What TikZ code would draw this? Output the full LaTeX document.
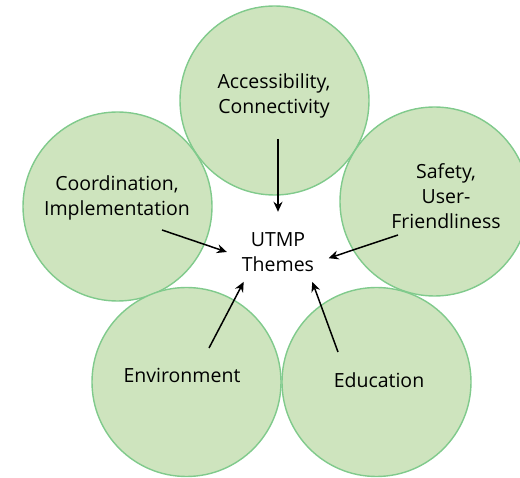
\documentclass[tikz,border=0pt]{standalone}
\usepackage{fontspec}
\setmainfont{Open Sans}
\usetikzlibrary{arrows.meta,shapes.geometric}
\definecolor{themefill}{RGB}{206,228,190}
\definecolor{themeline}{RGB}{128,202,140}
\tikzset{
    theme-circle/.style = {circle, draw=themeline, fill=themefill, line width=1.4pt, minimum size=189pt, inner sep=0pt},
    theme-text/.style = {align=center, font=\fontsize{19.5}{25}\selectfont, inner sep=0pt},
    theme-arrow/.style = {-{Stealth[length=10pt,width=9pt]}, line width=1.5pt},
}

\begin{document}
\begin{tikzpicture}[x=1pt,y=-1pt]
\useasboundingbox (0,0) rectangle (520,478);
\node [theme-circle] (c-access) at (274.5,100.5) {};
\node [theme-circle] (c-coord) at (117.5,206.5) {};
\node [theme-circle] (c-safety) at (434.5,201.5) {};
\node [theme-circle] (c-env) at (186.5,382) {};
\node [theme-circle] (c-edu) at (376.5,382) {};

\node [theme-text] (access) at (274,96) {Accessibility,\\Connectivity};
\node [theme-text] (coord) at (117,198) {Coordination,\\Implementation};
\node [theme-text] (safety) at (446,196) {Safety,\\User-\\Friendliness};
\node [theme-text] (env) at (182,375) {Environment};
\node [theme-text] (edu) at (379,380) {Education};
\node [theme-text, ellipse, minimum width=96pt, minimum height=80pt] (utmp) at (278,252) {UTMP\\Themes};

\coordinate (access-tail) at (278,139);
\coordinate (coord-tail) at (162,230);
\coordinate (safety-tail) at (398,235);
\coordinate (env-tail) at (209,348);
\coordinate (edu-tail) at (338,352);

\draw [theme-arrow] (access-tail) -- (utmp.90);
\draw [theme-arrow] (coord-tail) -- (utmp.180);
\draw [theme-arrow] (safety-tail) -- (utmp.-7);
\draw [theme-arrow] (env-tail) -- (utmp.221);
\draw [theme-arrow] (edu-tail) -- (utmp.-41.5);
\end{tikzpicture}
\end{document}
